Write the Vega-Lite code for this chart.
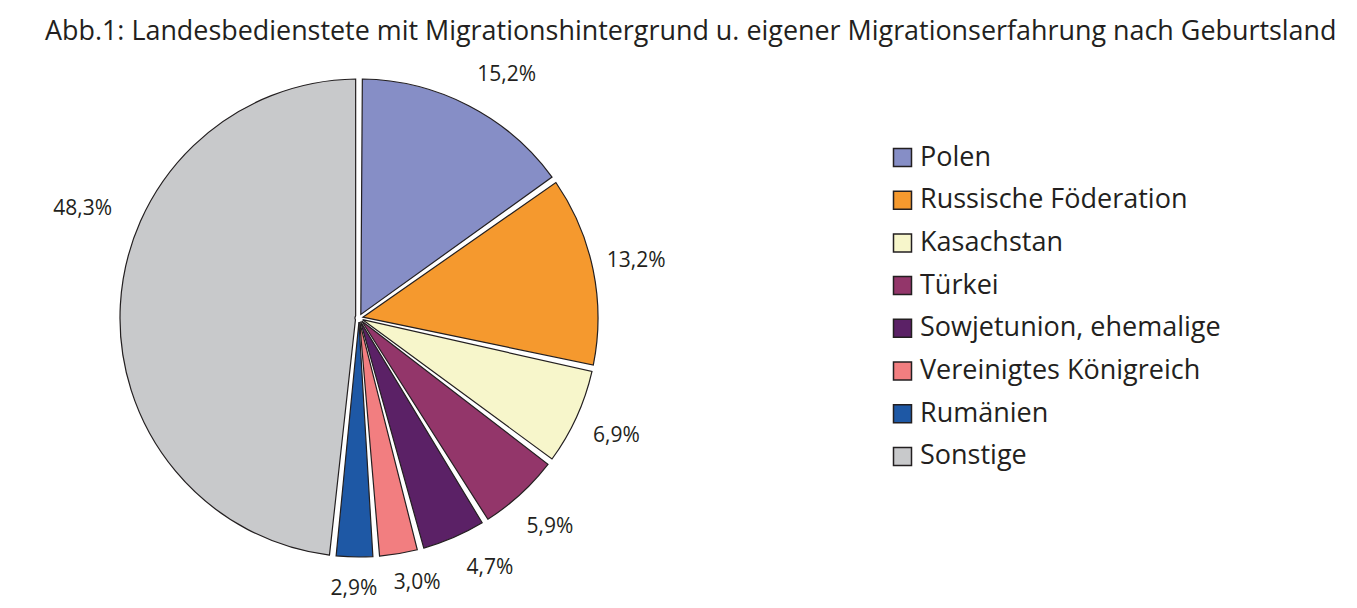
{
  "$schema": "https://vega.github.io/schema/vega-lite/v6.json",
  "width": 698,
  "height": 532,
  "autosize": {"type": "none"},
  "padding": {"left": 10, "top": 52, "right": 649, "bottom": 24},
  "config": {
    "locale": {"number": {"decimal": ",", "thousands": ".", "grouping": [3], "currency": ["", " €"]}},
    "view": {"stroke": null},
    "font": "Open Sans"
  },
  "title": {
    "text": "Abb.1: Landesbedienstete mit Migrationshintergrund u. eigener Migrationserfahrung nach Geburtsland",
    "anchor": "start",
    "dx": 35,
    "fontSize": 26.9,
    "fontWeight": "normal",
    "font": "Open Sans",
    "color": "#231f20",
    "offset": 2,
    "limit": 1400
  },
  "data": {
    "values": [
      {"Nr": 1, "Land": "Polen", "Anteil": 0.152},
      {"Nr": 2, "Land": "Russische Föderation", "Anteil": 0.132},
      {"Nr": 3, "Land": "Kasachstan", "Anteil": 0.069},
      {"Nr": 4, "Land": "Türkei", "Anteil": 0.059},
      {"Nr": 5, "Land": "Sowjetunion, ehemalige", "Anteil": 0.047},
      {"Nr": 6, "Land": "Vereinigtes Königreich", "Anteil": 0.030},
      {"Nr": 7, "Land": "Rumänien", "Anteil": 0.029},
      {"Nr": 8, "Land": "Sonstige", "Anteil": 0.483}
    ]
  },
  "encoding": {
    "theta": {"field": "Anteil", "type": "quantitative", "stack": true},
    "order": {"field": "Nr", "type": "quantitative"}
  },
  "layer": [
    {
      "mark": {"type": "arc", "outerRadius": 239, "innerRadius": 4, "padAngle": 0.028, "stroke": "#231f20", "strokeWidth": 1.2},
      "encoding": {
        "color": {
          "field": "Land",
          "type": "nominal",
          "scale": {
            "domain": ["Polen", "Russische Föderation", "Kasachstan", "Türkei", "Sowjetunion, ehemalige", "Vereinigtes Königreich", "Rumänien", "Sonstige"],
            "range": ["#868ec6", "#f5992e", "#f7f6cb", "#93366a", "#5b2166", "#f27e80", "#1e58a5", "#c8c9cb"]
          },
          "legend": {
            "title": null,
            "orient": "none",
            "legendX": 879,
            "legendY": 92,
            "symbolType": "square",
            "symbolSize": 324,
            "symbolStrokeColor": "#231f20",
            "symbolStrokeWidth": 1.5,
            "symbolOpacity": 1,
            "labelFont": "Open Sans",
            "labelFontSize": 27,
            "labelColor": "#231f20",
            "labelOffset": 4,
            "rowPadding": 14.7,
            "labelLimit": 500
          }
        }
      }
    },
    {
      "mark": {"type": "text", "radius": 284, "thetaOffset": 0.07, "fontSize": 21, "color": "#231f20", "font": "Open Sans"},
      "encoding": {
        "text": {"condition": {"test": "datum.Land === 'Polen'", "field": "Anteil", "type": "quantitative", "format": ".1%"}, "value": ""}
      }
    },
    {
      "mark": {"type": "text", "radius": 283, "fontSize": 21, "color": "#231f20", "font": "Open Sans"},
      "encoding": {
        "text": {"condition": {"test": "indexof(['Russische Föderation','Kasachstan','Türkei'], datum.Land) >= 0", "field": "Anteil", "type": "quantitative", "format": ".1%"}, "value": ""}
      }
    },
    {
      "mark": {"type": "text", "radius": 282, "thetaOffset": -0.075, "fontSize": 21, "color": "#231f20", "font": "Open Sans"},
      "encoding": {
        "text": {"condition": {"test": "datum.Land === 'Sowjetunion, ehemalige'", "field": "Anteil", "type": "quantitative", "format": ".1%"}, "value": ""}
      }
    },
    {
      "mark": {"type": "text", "radius": 271, "thetaOffset": -0.05, "fontSize": 21, "color": "#231f20", "font": "Open Sans"},
      "encoding": {
        "text": {"condition": {"test": "datum.Land === 'Vereinigtes Königreich'", "field": "Anteil", "type": "quantitative", "format": ".1%"}, "value": ""}
      }
    },
    {
      "mark": {"type": "text", "radius": 271, "fontSize": 21, "color": "#231f20", "font": "Open Sans"},
      "encoding": {
        "text": {"condition": {"test": "datum.Land === 'Rumänien'", "field": "Anteil", "type": "quantitative", "format": ".1%"}, "value": ""}
      }
    },
    {
      "mark": {"type": "text", "radius": 297, "thetaOffset": 0.32, "fontSize": 21, "color": "#231f20", "font": "Open Sans"},
      "encoding": {
        "text": {"condition": {"test": "datum.Land === 'Sonstige'", "field": "Anteil", "type": "quantitative", "format": ".1%"}, "value": ""}
      }
    }
  ]
}
